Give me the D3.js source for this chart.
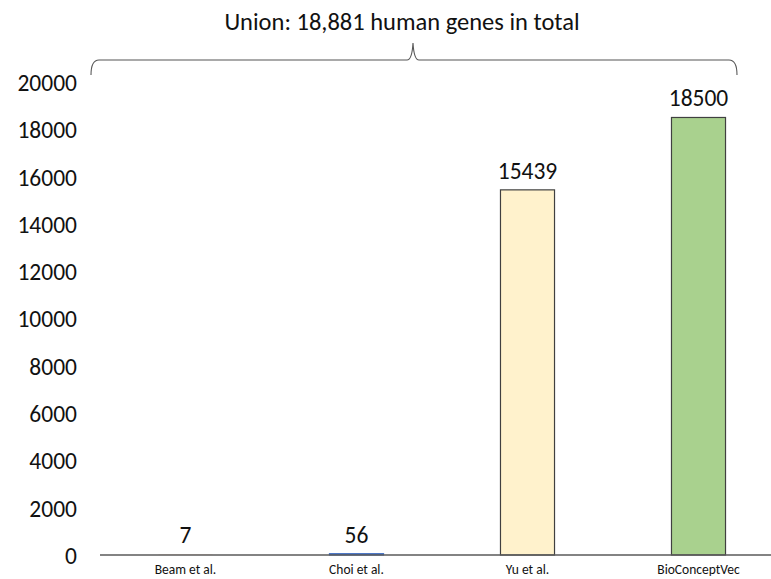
<!DOCTYPE html>
<html>
<head>
<meta charset="utf-8">
<script src="https://cdn.jsdelivr.net/npm/d3@7"></script>
<style>
  html, body { margin: 0; padding: 0; background: #fff; }
  svg { display: block; font-family: Carlito, Lato, "Open Sans", sans-serif; }
</style>
</head>
<body>
<svg id="chart" width="771" height="579"></svg>
<script>
// Human genes covered by each embedding resource
const categories = ["Beam et al.", "Choi et al.", "Yu et al.", "BioConceptVec"];
const geneCounts = [7, 56, 15439, 18500];
const barFills = ["#ED7D31", "#4472C4", "#FFF2CC", "#A9D18E"];
const barStrokes = ["none", "#4472C4", "#404040", "#404040"];
const yTicks = [0, 2000, 4000, 6000, 8000, 10000, 12000, 14000, 16000, 18000, 20000];
const unionLabel = "Union: 18,881 human genes in total";

const svg = d3.select("#chart");

const x = d3.scaleBand().domain(categories).range([100, 784]).padding(0);
const y = d3.scaleLinear().domain([0, 20000]).range([555, 82]);
const barWidth = x.bandwidth() * 0.316;

// value axis: labels only
const yAxis = svg.append("g")
  .attr("transform", "translate(77,0)")
  .call(d3.axisLeft(y).tickValues(yTicks).tickSize(0).tickPadding(0).tickFormat(d3.format("d")));
yAxis.select(".domain").remove();
yAxis.selectAll("text")
  .attr("font-size", 23.5)
  .attr("fill", "#111")
  .attr("font-family", "Carlito, Lato, 'Open Sans', sans-serif")
  .attr("dy", "0.36em");

// bars
svg.append("g").selectAll("rect")
  .data(categories)
  .join("rect")
  .attr("x", (d) => x(d) + x.bandwidth() / 2 - barWidth / 2)
  .attr("y", (d, i) => y(geneCounts[i]))
  .attr("width", barWidth)
  .attr("height", (d, i) => y(0) - y(geneCounts[i]))
  .attr("fill", (d, i) => barFills[i])
  .attr("stroke", (d, i) => barStrokes[i])
  .attr("stroke-width", 1.2);

// category axis line
svg.append("line")
  .attr("x1", 100).attr("x2", 771)
  .attr("y1", y(0)).attr("y2", y(0))
  .attr("stroke", "#5a5a5a")
  .attr("stroke-width", 1.6);

// category labels
svg.append("g").selectAll("text")
  .data(categories)
  .join("text")
  .attr("x", (d) => x(d) + x.bandwidth() / 2)
  .attr("y", 574)
  .attr("text-anchor", "middle")
  .attr("font-size", 13.5)
  .attr("fill", "#111")
  .text((d) => d);

// value labels
svg.append("g").selectAll("text")
  .data(categories)
  .join("text")
  .attr("x", (d) => x(d) + x.bandwidth() / 2)
  .attr("y", (d, i) => Math.min(y(geneCounts[i]), y(0) - 1) - 11)
  .attr("text-anchor", "middle")
  .attr("font-size", 23.5)
  .attr("fill", "#111")
  .text((d, i) => geneCounts[i]);

// curly brace spanning all bars
const bx0 = 91, bx1 = 737, bmid = 413, by = 60, bTip = 43, bEnd = 75;
const brace = d3.path();
brace.moveTo(bx0, bEnd);
brace.quadraticCurveTo(bx0, by, bx0 + 8, by);
brace.lineTo(bmid - 6, by);
brace.quadraticCurveTo(bmid - 1, by, bmid, bTip);
brace.quadraticCurveTo(bmid + 1, by, bmid + 6, by);
brace.lineTo(bx1 - 8, by);
brace.quadraticCurveTo(bx1, by, bx1, bEnd);
svg.append("path")
  .attr("d", brace.toString())
  .attr("fill", "none")
  .attr("stroke", "#555")
  .attr("stroke-width", 1.1);

svg.append("text")
  .attr("x", 402)
  .attr("y", 30)
  .attr("text-anchor", "middle")
  .attr("font-size", 24.5)
  .attr("fill", "#111")
  .text(unionLabel);
</script>
</body>
</html>
